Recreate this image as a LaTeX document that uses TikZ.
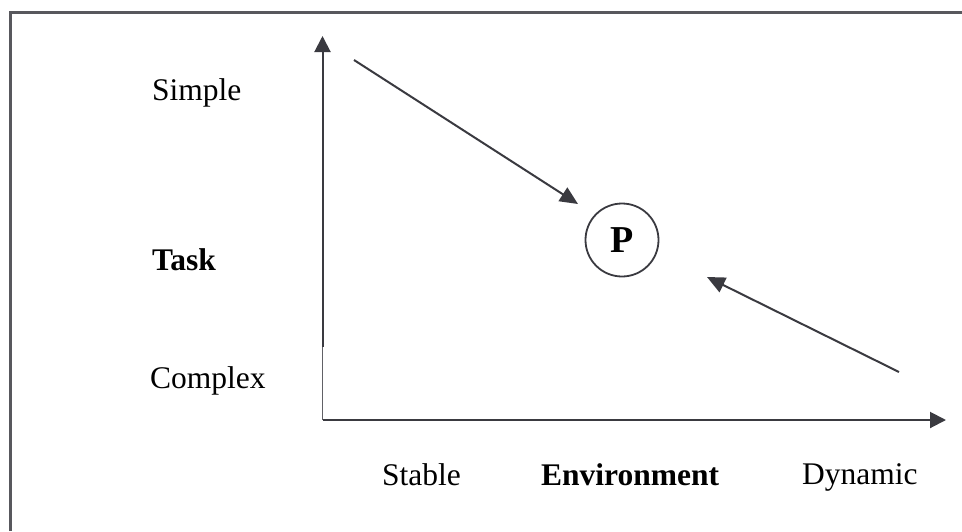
\documentclass[tikz,border=0pt]{standalone}
\usepackage{fontspec}
\setmainfont{Liberation Serif}
\usetikzlibrary{arrows.meta}
\definecolor{ink}{RGB}{58,58,64}
\tikzset{
  lbl/.style={anchor=base west, inner sep=0pt, font=\fontsize{31.5}{36}\selectfont},
  bl/.style={lbl, font=\fontsize{31.5}{36}\selectfont\bfseries},
  axis/.style={draw=ink, line width=2pt, -{Triangle[length=16pt,width=16pt]}},
  pointer/.style={draw=ink, line width=2pt, -{Triangle[length=18pt,width=16pt]}},
  frame/.style={draw=ink!85, line width=2.2pt}
}
\begin{document}
\begin{tikzpicture}[x=1pt,y=-1pt]
\useasboundingbox (0,0) rectangle (962,531);
% frame
\coordinate (fbl) at (10.5,531);
\coordinate (ftl) at (10.5,12.5);
\coordinate (ftr) at (962,12.5);
\draw[frame] (fbl) -- (ftl) -- (ftr);
% axes
\coordinate (o) at (322.5,420);
\coordinate (vbreak) at (322.5,347);
\coordinate (ytop) at (322.5,36);
\coordinate (xend) at (946,420);
\draw[draw=ink!80, line width=1.4pt] (o) -- (vbreak);
\draw[axis] (vbreak) -- (ytop);
\draw[axis] (o) -- (xend);
% labels
\node[lbl] (simple) at (152,100) {Simple};
\node[bl] (task) at (152,270) {Task};
\node[lbl] (complex) at (150,388) {Complex};
\node[lbl] (stable) at (382,485) {Stable};
\node[bl] (env) at (541,485) {Environment};
\node[lbl] (dyn) at (802,484) {Dynamic};
% P
\node[draw=ink, line width=1.8pt, circle, minimum size=73pt, inner sep=0pt,
      font=\fontsize{38}{42}\selectfont\bfseries] (P) at (622,240) {P};
% arrows
\coordinate (a1s) at (354,60);
\coordinate (a1e) at (578,204);
\coordinate (a2s) at (899,372);
\coordinate (a2e) at (707,277);
\draw[pointer] (a1s) -- (a1e);
\draw[pointer] (a2s) -- (a2e);
\end{tikzpicture}
\end{document}
